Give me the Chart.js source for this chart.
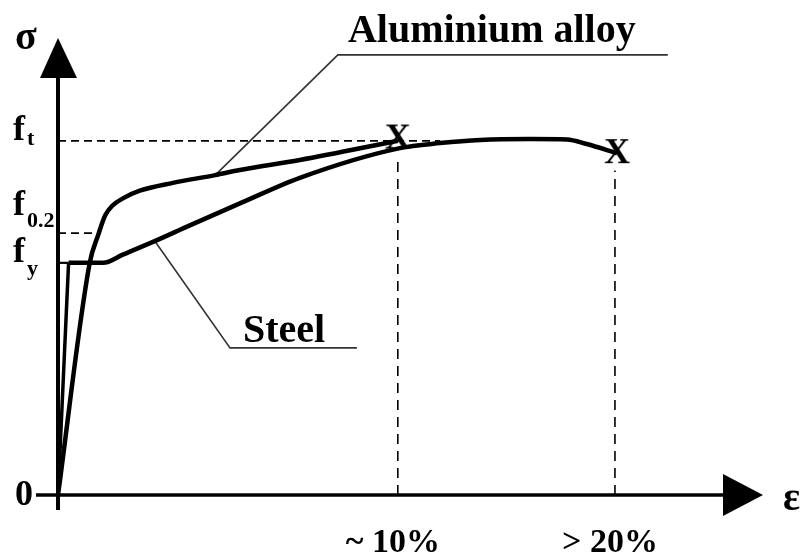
<!DOCTYPE html>
<html>
<head>
<meta charset="utf-8">
<script src="https://cdn.jsdelivr.net/npm/chart.js@4.4.1/dist/chart.umd.min.js"></script>
<style>
  html, body { margin: 0; padding: 0; background: #fff; }
  #wrap { width: 806px; height: 556px; }
</style>
</head>
<body>
<div id="wrap"><canvas id="chart"></canvas></div>
<script>
// schematic diagram: both axes run 0..100 (arbitrary units)
const steelElasticX = [0, 1.5];
const steelElasticY = [0, 50.8];
const steelX = [1.5, 6.4, 9.2, 13.8, 18.7, 25.8, 34.3, 48.5, 54.2, 59.9, 67.0, 72.2, 75.0, 79.3];
const steelY = [50.8, 50.8, 52.6, 55.6, 59.0, 63.8, 69.4, 75.9, 77.0, 77.7, 77.9, 77.8, 76.8, 74.8];
const alloyX = [0, 4.5, 5.7, 6.7, 7.7, 9.2, 11.6, 16.3, 22.3, 25.8, 34.3, 48.2];
const alloyY = [0, 50.8, 56.9, 61.2, 63.3, 64.9, 66.6, 68.3, 70.0, 71.1, 73.3, 77.5];

const yTickValues = [0, 50.8, 57.3, 77.5];
const yTickMain = ['0', 'f', 'f', 'f'];
const yTickSub = ['', 'y', '0.2', 't'];
const xTickValues = [48.2, 79.0];
const xTickLabels = ['~ 10%', '> 20%'];

const breakX = [48.2, 79.3];
const breakY = [78.0, 74.8];

const alloyLeaderX = [22.3, 39.7, 86.5];
const alloyLeaderY = [70.0, 96.3, 96.3];
const steelLeaderX = [13.8, 24.4, 42.4];
const steelLeaderY = [55.4, 32.2, 32.2];

const seriesNames = ['Aluminium alloy', 'Steel'];

function pts(xs, ys) {
    return xs.map((x, i) => ({ x: x, y: ys[i] }));
}

// "X" glyph used as point style for the failure points
const xMark = document.createElement('canvas');
xMark.width = 30; xMark.height = 34;
(function() {
    const c = xMark.getContext('2d');
    c.fillStyle = '#000';
    c.font = 'bold 36px "Liberation Serif"';
    c.textAlign = 'center';
    c.textBaseline = 'middle';
    c.fillText('X', 15, 18);
})();

const dash = { borderColor: '#000', borderWidth: 1.8, borderDash: [8, 5], pointRadius: 0, tension: 0 };
const vdash = { borderColor: '#000', borderWidth: 1.6, borderDash: [10, 7], pointRadius: 0, tension: 0 };
const leader = { borderColor: '#333', borderWidth: 1.6, pointRadius: 0, tension: 0 };

const diagramPlugin = {
    id: 'diagram',
    beforeDatasetsDraw(chart) {
        const ctx = chart.ctx;
        const xs = chart.scales.x, ys = chart.scales.y;
        const x0 = xs.getPixelForValue(0), y0 = ys.getPixelForValue(0);
        const yTop = ys.getPixelForValue(100), xEnd = xs.getPixelForValue(100);
        ctx.save();
        ctx.strokeStyle = '#000';
        ctx.fillStyle = '#000';
        // y axis
        ctx.lineWidth = 4;
        ctx.beginPath();
        ctx.moveTo(x0, y0 + 15);
        ctx.lineTo(x0, yTop + 40);
        ctx.stroke();
        ctx.beginPath();
        ctx.moveTo(x0, yTop);
        ctx.lineTo(x0 - 18, yTop + 40);
        ctx.lineTo(x0 + 19, yTop + 40);
        ctx.closePath();
        ctx.fill();
        // x axis
        ctx.lineWidth = 3.5;
        ctx.beginPath();
        ctx.moveTo(x0 - 22, y0);
        ctx.lineTo(xEnd - 40, y0);
        ctx.stroke();
        ctx.beginPath();
        ctx.moveTo(xEnd, y0);
        ctx.lineTo(xEnd - 40, y0 - 21);
        ctx.lineTo(xEnd - 40, y0 + 21);
        ctx.closePath();
        ctx.fill();
        ctx.restore();
    },
    afterDraw(chart) {
        const ctx = chart.ctx;
        const xs = chart.scales.x, ys = chart.scales.y;
        ctx.save();
        ctx.fillStyle = '#000';
        ctx.textBaseline = 'alphabetic';

        // axis symbols
        ctx.font = 'bold 40px "Liberation Serif"';
        ctx.textAlign = 'left';
        ctx.fillText('σ', 15, 49);
        ctx.fillText('ε', 783, 510);

        // y tick labels with subscripts
        const mainOff = [10, -1, -18, -1];
        const subOff = [0, 12, -6, 4];
        yTickValues.forEach((v, i) => {
            const py = ys.getPixelForValue(v);
            if (yTickSub[i] === '') {
                ctx.font = 'bold 36px "Liberation Serif"';
                ctx.textAlign = 'right';
                ctx.fillText(yTickMain[i], 33, py + mainOff[i]);
                return;
            }
            ctx.textAlign = 'left';
            ctx.font = 'bold 36px "Liberation Serif"';
            ctx.fillText(yTickMain[i], 13, py + mainOff[i]);
            ctx.font = 'bold 22px "Liberation Serif"';
            ctx.fillText(yTickSub[i], 27, py + subOff[i]);
        });

        // x tick labels
        ctx.font = 'bold 34px "Liberation Serif"';
        ctx.textAlign = 'center';
        xTickValues.forEach((v, i) => {
            ctx.fillText(xTickLabels[i], xs.getPixelForValue(v) - 5, 552);
        });

        // series labels on the leader lines
        ctx.font = 'bold 40px "Liberation Serif"';
        ctx.textAlign = 'left';
        ctx.fillText(seriesNames[0], xs.getPixelForValue(alloyLeaderX[1]) + 10, ys.getPixelForValue(alloyLeaderY[1]) - 13);
        ctx.fillText(seriesNames[1], xs.getPixelForValue(steelLeaderX[1]) + 13, ys.getPixelForValue(steelLeaderY[1]) - 6);
        ctx.restore();
    }
};

new Chart(document.getElementById('chart'), {
    type: 'line',
    data: {
        datasets: [
            { label: 'alloy', data: pts(alloyX, alloyY), borderColor: '#000', borderWidth: 4.5, pointRadius: 0, cubicInterpolationMode: 'monotone' },
            { label: 'steel elastic', data: pts(steelElasticX, steelElasticY), borderColor: '#000', borderWidth: 3.5, pointRadius: 0, tension: 0 },
            { label: 'steel', data: pts(steelX, steelY), borderColor: '#000', borderWidth: 4.5, pointRadius: 0, cubicInterpolationMode: 'monotone' },
            { label: 'break', data: pts(breakX, breakY), showLine: false, pointStyle: xMark, pointRadius: 15 },
            Object.assign({ label: 'ft', data: pts([0, 54.2], [yTickValues[3], yTickValues[3]]) }, dash),
            Object.assign({ label: 'f02', data: pts([0, 5.4], [yTickValues[2], yTickValues[2]]) }, dash),
            { label: 'fy', data: pts([0, 1.5], [yTickValues[1], yTickValues[1]]), borderColor: '#000', borderWidth: 2.2, pointRadius: 0 },
            Object.assign({ label: 'e10', data: pts([xTickValues[0], xTickValues[0]], [0, 74]) }, vdash),
            Object.assign({ label: 'e20', data: pts([xTickValues[1], xTickValues[1]], [0, 71]) }, vdash),
            Object.assign({ label: 'alloy leader', data: pts(alloyLeaderX, alloyLeaderY) }, leader),
            Object.assign({ label: 'steel leader', data: pts(steelLeaderX, steelLeaderY) }, leader)
        ]
    },
    options: {
        responsive: true,
        maintainAspectRatio: false,
        animation: false,
        layout: { padding: { left: 58, right: 43, top: 38, bottom: 61 } },
        scales: {
            x: { type: 'linear', min: 0, max: 100, display: false },
            y: { type: 'linear', min: 0, max: 100, display: false }
        },
        plugins: {
            legend: { display: false },
            tooltip: { enabled: false }
        }
    },
    plugins: [diagramPlugin]
});
</script>
</body>
</html>
